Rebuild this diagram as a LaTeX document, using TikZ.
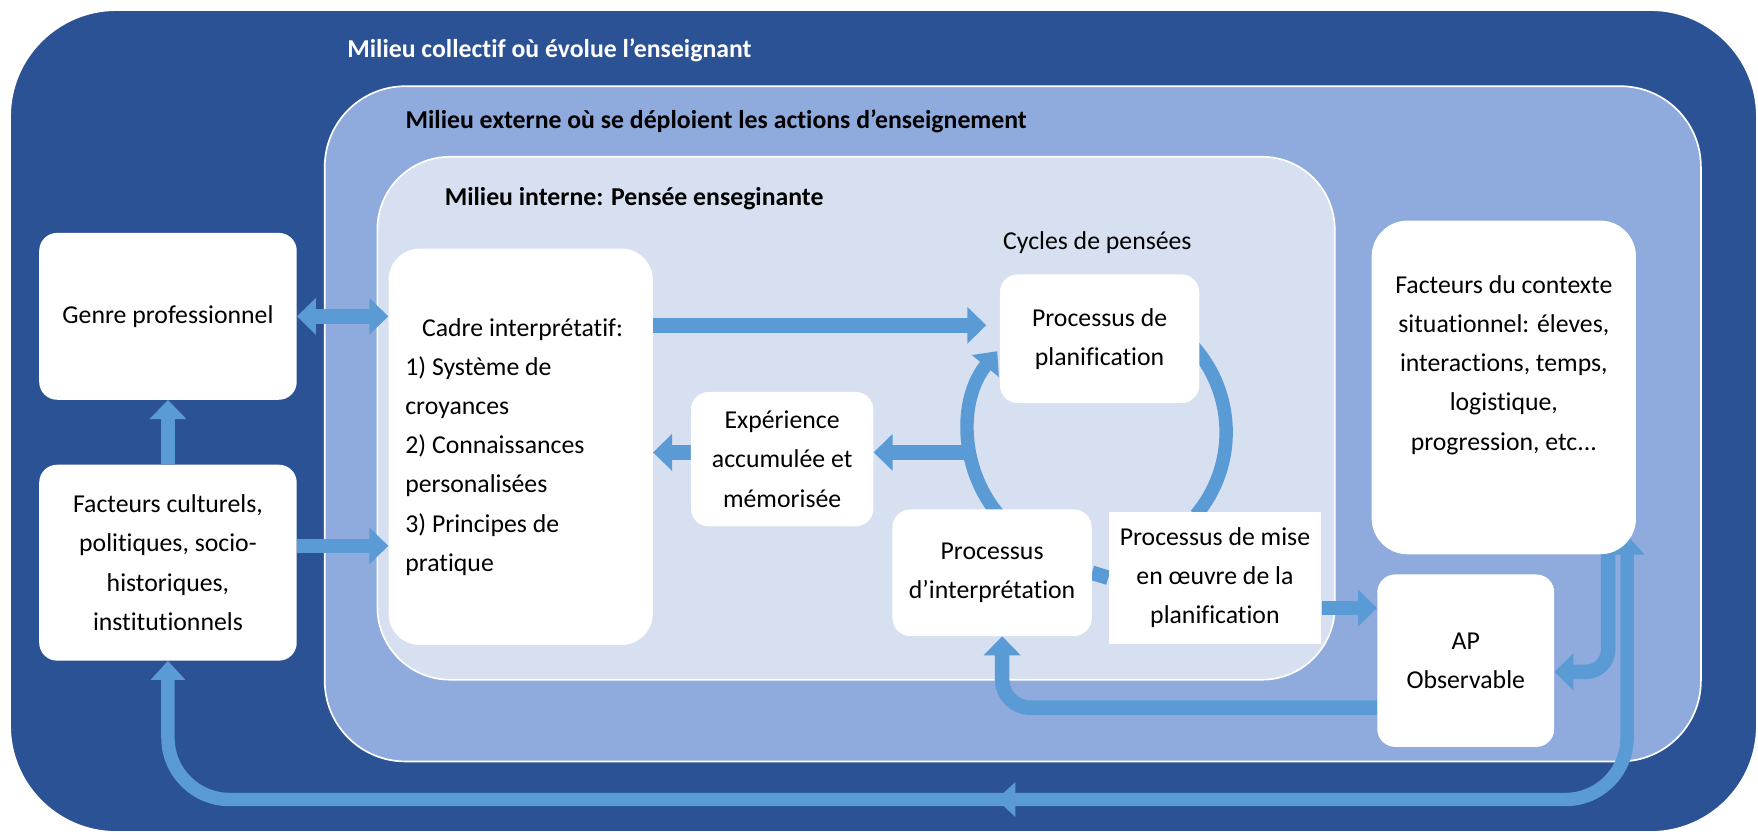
\documentclass[tikz,border=0pt]{standalone}
\usepackage{fontspec}
\setmainfont{Carlito}[Ligatures=CommonOff]
\usepackage{tikz}
\usetikzlibrary{%
	arrows.meta,%
	positioning,%
	decorations.markings,% mid arrow on the long loop
	calc%
}
\definecolor{collectifblue}{HTML}{2C5296}
\definecolor{externeblue}{HTML}{8FAADC}
\definecolor{interneblue}{HTML}{D6E0F1}
\definecolor{flowblue}{HTML}{5B9BD5}
\tikzstyle{milieu} = [draw=white, line width=1.5pt, inner sep=0pt]
\tikzstyle{box} = [fill=white, rounded corners=16pt, align=center, inner sep=0pt]
\tikzstyle{titre} = [anchor=west, inner sep=0pt, font=\fontsize{23}{35}\selectfont\bfseries]
\tikzstyle{flow} = [draw=flowblue, line width=13pt, -{Triangle[length=17pt,width=32pt]}]
\tikzstyle{flowboth} = [flow, {Triangle[length=17pt,width=32pt]}-{Triangle[length=17pt,width=32pt]}]
\tikzstyle{ring} = [draw=flowblue, line width=12pt]
\tikzstyle{loopline} = [draw=flowblue, line width=12pt, {Triangle[length=17pt,width=30pt]}-{Triangle[length=17pt,width=30pt]},
	decoration={markings, mark=at position 0.52 with {\arrowreversed{Triangle[length=17pt,width=30pt]}}},
	postaction={decorate}]
\pgfdeclarelayer{bg}
\pgfdeclarelayer{background}
\pgfsetlayers{bg,background,main}

\begin{document}
\begin{tikzpicture}[x=1pt, y=-1pt, font=\fontsize{23}{35}\selectfont]
	\useasboundingbox (0,0) rectangle (1570,745);
	
	% First we draw the three milieux
	\begin{pgfonlayer}{bg}
	\node[milieu, fill=collectifblue, rounded corners=95pt, minimum width=1560pt, minimum height=734pt] (collectif) at (789,376) {};
	\node[milieu, fill=externeblue, rounded corners=72pt, minimum width=1229pt, minimum height=603pt] (externe) at (904.5,378.5) {};
	\node[milieu, fill=interneblue, rounded corners=65pt, minimum width=855pt, minimum height=467pt] (interne) at (764.5,373.5) {};
	\end{pgfonlayer}
	
	\node[titre, text=white] (titrecollectif) at (310,45) {Milieu collectif où évolue l'enseignant};
	\node[titre] (titreexterne) at (362,108) {Milieu externe où se déploient les actions d'enseignement};
	\node[titre] (titreinterne) at (397,177) {Milieu interne: Pensée enseginante};
	\node[inner sep=0pt] (cycles) at (980,217) {Cycles de pensées};
	
	% Then the white boxes
	\foreach \px/\py/\name/\w/\h/\txt in {%
		{150/282.5/genre/230/149/{Genre professionnel}},
		{150/502.5/culture/230/175/{Facteurs culturels,\\politiques, socio-\\historiques,\\institutionnels}},
		{698.5/410/exper/163/120/{Expérience\\accumulée et\\mémorisée}},
		{982/302.5/planif/178/115/{Processus de\\planification}},
		{886/511.5/interp/178/113/{Processus\\d'interprétation}},
		{1309/590/ap/158/154/{AP\\Observable}}%
	}
	\node[box, minimum width=\w pt, minimum height=\h pt] (\name) at (\px,\py) {\txt};
	
	\node[box, rounded corners=28pt, align=flush left, text width=206pt, minimum width=236pt, minimum height=354pt] (cadre) at (465,399)
		{\hspace*{15pt}Cadre interprétatif:\\1) Système de\\croyances\\2) Connaissances\\personalisées\\3) Principes de\\pratique};
	\node[box, sharp corners, minimum width=190pt, minimum height=118pt] (mise) at (1085,516)
		{Processus de mise\\en œuvre de la\\planification};
	\node[box, rounded corners=32pt, minimum width=236pt, minimum height=298pt] (contexte) at (1343,346)
		{Facteurs du contexte\\situationnel: éleves,\\interactions, temps,\\logistique,\\progression, etc...\\[9pt]\mbox{}};
	
	% Connect boxes with arrows
	\begin{pgfonlayer}{background}
	\path[flowboth] (genre.east) -- (genre.east -| cadre.west);
	\path[flow] (culture.north) -- (genre.south);
	\path[flow] ([yshift=15pt]culture.east) -- ([yshift=15pt]culture.east -| cadre.west);
	\path[flow, shorten >=12pt] ([yshift=12pt]planif.west -| cadre.east) -- ([yshift=12pt]planif.west);
	
	% Cycle of thoughts
	\coordinate (cycle) at (980,386);
	\coordinate (cycleW) at ([shift={(171:115)}]cycle);
	\path[ring, -{Triangle[length=17pt,width=30pt]}] ([shift={(140:115)}]cycle) arc[start angle=140, end angle=219, radius=115];
	\path[ring] ([shift={(-50:115)}]cycle) arc[start angle=-50, end angle=40, radius=115];
	\path[flow] (cycleW) -- (cycleW -| exper.east);
	\path[flow] ([yshift=6pt]exper.west) -- ([yshift=6pt]exper.west -| cadre.east);
	\path[flow, -] (interp.east) -- (mise.west);
	
	% Observable practice
	\path[flow] ([yshift=-27pt]mise.east) -- ([yshift=-27pt]mise.east -| ap.west);
	\path[flow, rounded corners=25pt] ([yshift=-42pt]ap.west) -| ([xshift=9pt]interp.south);
	\path[flow, rounded corners=20pt] ([xshift=-25pt, yshift=10pt]contexte.south east) |- ([yshift=-10pt]ap.east);
	
	% Long loop round the external milieu
	\coordinate (loopR) at ([xshift=-8pt, yshift=17pt]contexte.south east);
	\coordinate (loopC) at (1453,714);
	\path[loopline, rounded corners=55pt] (culture.south) |- (loopC) -- (loopR);
	\end{pgfonlayer}
	
\end{tikzpicture}
\end{document}
